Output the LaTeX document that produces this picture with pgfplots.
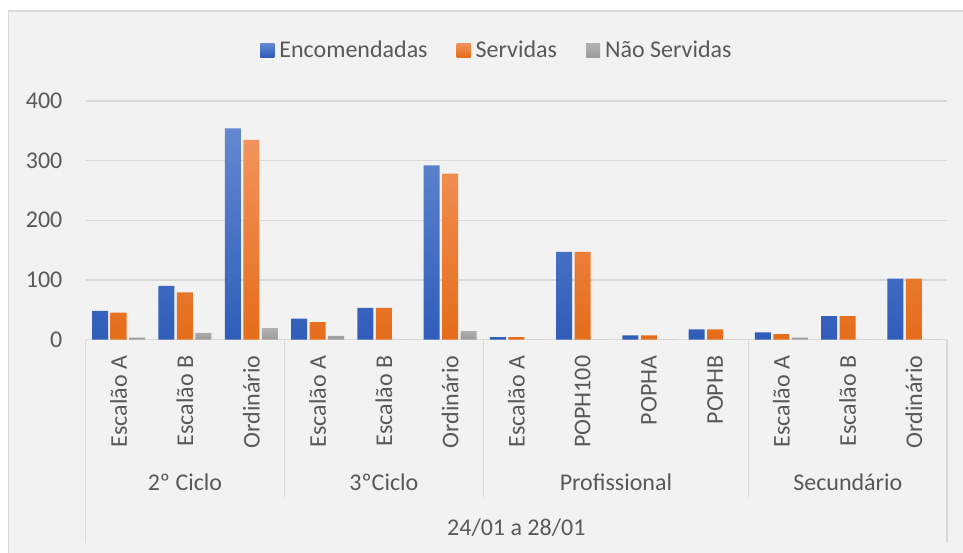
\documentclass[border=0pt]{standalone}
\usepackage{fontspec}
\setmainfont{Carlito}
\usepackage{pgfplots}
\usepackage{pgfplotstable}
\pgfplotsset{compat=1.18}

\definecolor{txt}{HTML}{595959}
\definecolor{gridc}{HTML}{D9D9D9}
\definecolor{chartbg}{HTML}{F2F2F2}
\definecolor{bluetop}{HTML}{6388D0}
\definecolor{bluebot}{HTML}{2F5DB9}
\definecolor{orgtop}{HTML}{F3935C}
\definecolor{orgbot}{HTML}{E56D1B}
\definecolor{graytop}{HTML}{B2B2B2}
\definecolor{graybot}{HTML}{9C9C9C}

\newcommand{\lab}{\fontsize{24}{28}\selectfont}

% idx: categoria (2º Ciclo 0-2, 3ºCiclo 3-5, Profissional 6-9, Secundário 10-12)
\pgfplotstableread{
idx enc serv nao
0   48  45   3
1   90  79   11
2   354 335  19
3   35  29   6
4   53  53   0
5   292 278  14
6   4   4    0
7   147 147  0
8   7   7    0
9   17  17   0
10  12  9    3
11  39  39   0
12  102 102  0
}\data

\begin{document}
\begin{tikzpicture}[x=1pt,y=1pt]
\useasboundingbox (0,0) rectangle (963,552);
\fill[white] (0,0) rectangle (963,552);
\filldraw[fill=chartbg, draw=gridc, line width=1.2pt] (8.5,-5) rectangle (975,541);

\begin{axis}[
  at={(85.6pt,212.5pt)}, anchor=south west,
  scale only axis, width=861.4pt, height=238.5pt,
  xmin=-0.5, xmax=12.5, ymin=0, ymax=400,
  ybar=2.5pt, bar width=16pt,
  xtick={0,...,12},
  xticklabels={Escalão A, Escalão B, Ordinário, Escalão A, Escalão B, Ordinário,
    Escalão A, POPH100, POPHA, POPHB, Escalão A, Escalão B, Ordinário},
  xticklabel style={rotate=90, anchor=east, inner sep=0pt},
  xticklabel shift=16pt,
  ytick={0,100,200,300,400},
  yticklabel style={anchor=east, inner sep=0pt},
  yticklabel shift=23pt,
  tick label style={font=\lab, text=txt},
  /pgf/number format/assume math mode=true,
  major tick length=0pt,
  axis x line*=bottom, axis y line*=left,
  x axis line style={draw=gridc, line width=1.5pt},
  y axis line style={draw=none},
  ymajorgrids, grid style={draw=gridc, line width=1.5pt},
  legend style={at={(0.4764,1.2138)}, anchor=center, legend columns=3,
    draw=none, fill=none, font=\lab, text=txt,
    /tikz/every even column/.append style={column sep=29pt},
    /tikz/every odd column/.append style={column sep=5pt},
    nodes={inner sep=0pt}},
  legend image code/.code={\path[#1, draw=none] (0pt,-7pt) rectangle (14pt,7pt);},
]
\addplot[draw=none, top color=bluetop, bottom color=bluebot] table[x=idx, y=enc] {\data};
\addlegendentry{Encomendadas}
\addplot[draw=none, top color=orgtop, bottom color=orgbot] table[x=idx, y=serv] {\data};
\addlegendentry{Servidas}
\addplot[draw=none, top color=graytop, bottom color=graybot] table[x=idx, y=nao] {\data};
\addlegendentry{Não Servidas}
\end{axis}

% separadores dos grupos
\draw[gridc, line width=1.5pt] (85.6,212.5) -- (85.6,9);
\draw[gridc, line width=1.5pt] (284.4,212.5) -- (284.4,55);
\draw[gridc, line width=1.5pt] (483.3,212.5) -- (483.3,55);
\draw[gridc, line width=1.5pt] (748.5,212.5) -- (748.5,55);
\draw[gridc, line width=1.5pt] (947,212.5) -- (947,9);

\node[font=\lab, text=txt] at (185,70) {2º Ciclo};
\node[font=\lab, text=txt] at (383.9,70) {3ºCiclo};
\node[font=\lab, text=txt] at (615.9,70) {Profissional};
\node[font=\lab, text=txt] at (847.8,70) {Secundário};
\node[font=\lab, text=txt] at (516.3,24) {24/01 a 28/01};
\end{tikzpicture}
\end{document}
